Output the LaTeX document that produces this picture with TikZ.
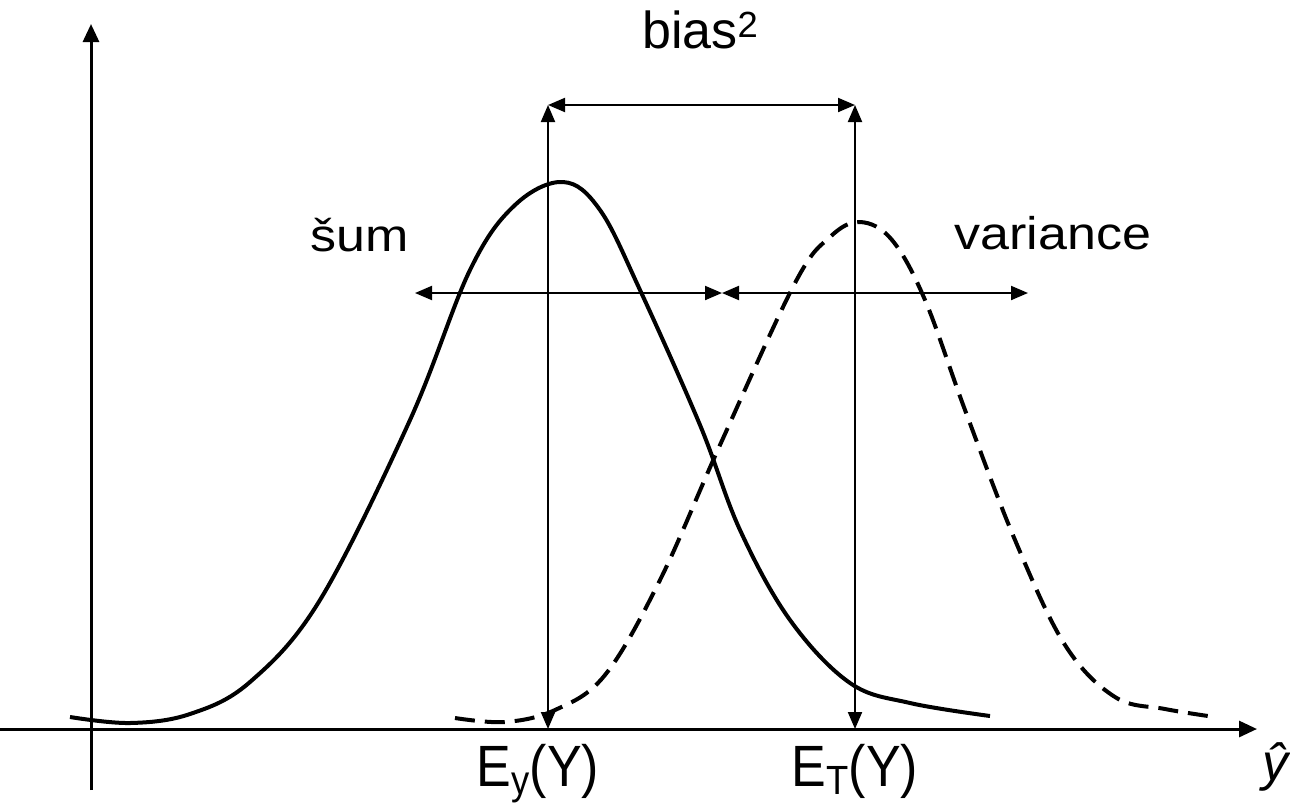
\documentclass[tikz,border=0pt]{standalone}
\usepackage{fontspec}
\setmainfont{Liberation Sans}
\usetikzlibrary{arrows.meta}
\begin{document}
\begin{tikzpicture}[x=1pt,y=-1pt,
  axis/.style={line width=3pt,-{Triangle[length=18pt,width=16pt]}},
  dim/.style={line width=2pt,{Triangle[length=17pt,width=14pt]}-{Triangle[length=17pt,width=14pt]}},
  curve/.style={line width=4pt},
  lbl/.style={font=\fontsize{52}{60}\selectfont,inner sep=0pt,anchor=base}]
\useasboundingbox (0,0) rectangle (1290,807);
% axes
\coordinate (yb) at (91,790);
\coordinate (yt) at (91,24);
\coordinate (xl) at (0,729);
\coordinate (xr) at (1257,729);
\draw[axis] (yb) -- (yt);
\draw[axis] (xl) -- (xr);
% curves
\draw[curve] plot[smooth,tension=0.6] coordinates {(70,717) (130,723) (190,714) (250,682) (320,600) (410,420) (470,270) (515,205) (563,182) (600,210) (640,290) (700,425) (740,530) (790,620) (850,683) (910,703) (990,716)};
\draw[curve,dash pattern=on 20pt off 10pt] plot[smooth,tension=0.6] coordinates {(455,718) (505,722) (555,710) (605,675) (660,580) (720,445) (795,283) (830,237) (860,222) (892,240) (925,300) (965,410) (1015,540) (1065,645) (1115,697) (1165,709) (1215,717)};
% dimension arrows
\coordinate (a1b) at (548,729);
\coordinate (a1t) at (548,105);
\coordinate (a2b) at (855,729);
\coordinate (a2t) at (855,105);
\coordinate (hl) at (415,293);
\coordinate (hm) at (722,293);
\coordinate (hr) at (1028,293);
\draw[dim] (a1b) -- (a1t);
\draw[dim] (a2b) -- (a2t);
\draw[dim] (a1t) -- (a2t);
\draw[dim] (hl) -- (hm);
\draw[dim] (hm) -- (hr);
% labels
\node[lbl] (bias) at (700,48) {bias\raisebox{0.2em}{\scalebox{0.7}{2}}};
\node[lbl] (sum) at (360,251) {\scalebox{1}[0.88]{šum}};
\node[lbl] (var) at (1053,249) {\scalebox{1}[0.88]{variance}};
\node[lbl] (ey) at (538,786) {\scalebox{1}[1.12]{E\raisebox{-0.15em}{\scalebox{0.7}{y}}(Y)}};
\node[lbl] (et) at (855,786) {\scalebox{1}[1.12]{E\raisebox{-0.15em}{\scalebox{0.7}{T}}(Y)}};
\node[lbl,anchor=base west] (yhat) at (1262,780) {\itshape ŷ};
\end{tikzpicture}
\end{document}
